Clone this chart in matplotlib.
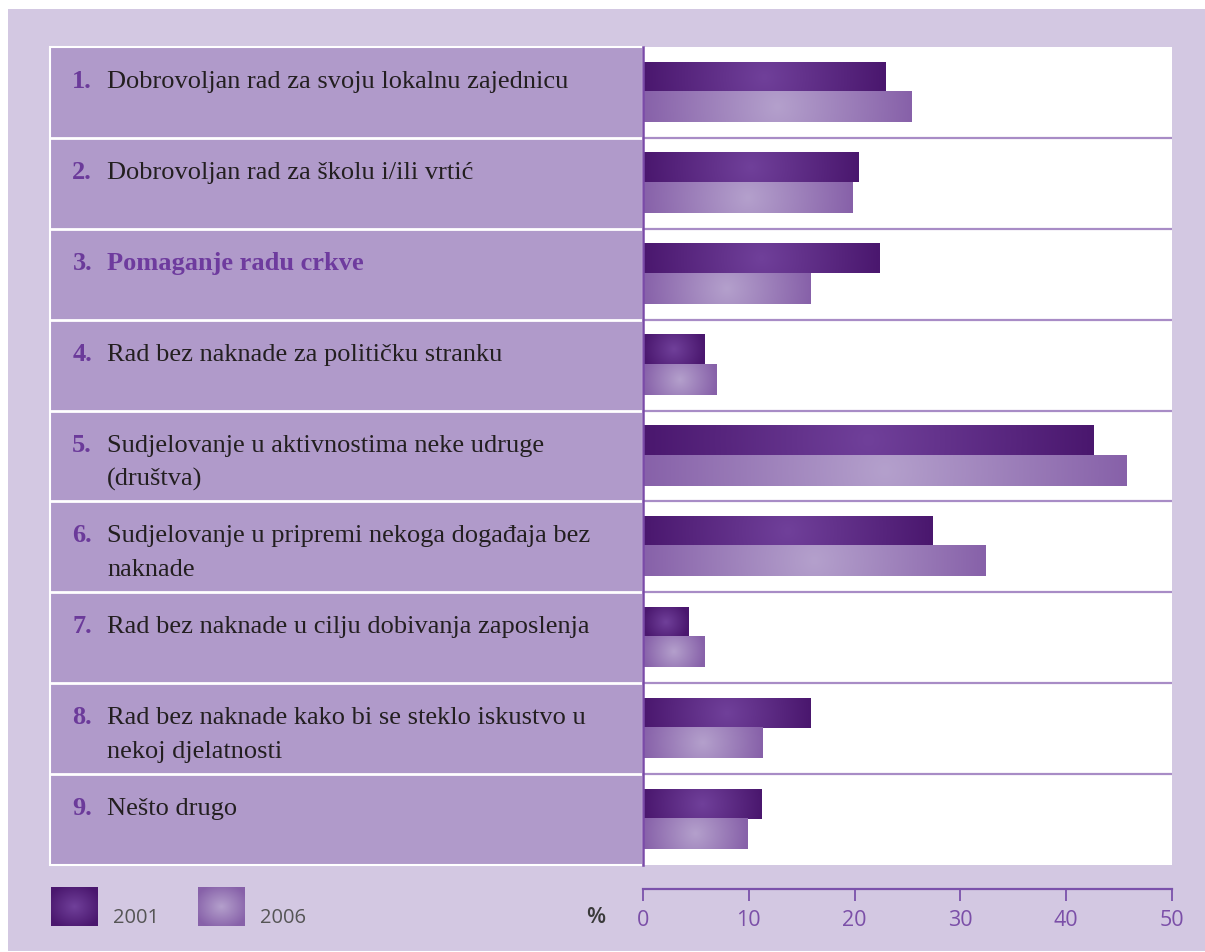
import numpy as np
import matplotlib
matplotlib.use("Agg")
import matplotlib.pyplot as plt
from matplotlib.colors import LinearSegmentedColormap
from matplotlib.transforms import Affine2D
from matplotlib.patches import Rectangle

W, H = 1205, 953

labels = [
    ["Dobrovoljan rad za svoju lokalnu zajednicu"],
    ["Dobrovoljan rad za školu i/ili vrtić"],
    ["Pomaganje radu crkve"],
    ["Rad bez naknade za političku stranku"],
    ["Sudjelovanje u aktivnostima neke udruge", "(društva)"],
    ["Sudjelovanje u pripremi nekoga događaja bez", "naknade"],
    ["Rad bez naknade u cilju dobivanja zaposlenja"],
    ["Rad bez naknade kako bi se steklo iskustvo u", "nekoj djelatnosti"],
    ["Nešto drugo"],
]
values_2001 = [22.9, 20.4, 22.4, 5.8, 42.6, 27.4, 4.3, 15.8, 11.2]
values_2006 = [25.4, 19.8, 15.8, 6.9, 45.7, 32.4, 5.8, 11.3, 9.9]
years = ["2001", "2006"]
ticks = [0, 10, 20, 30, 40, 50]

cmap_2001 = LinearSegmentedColormap.from_list("c2001", ["#70409A", "#4A176E"])
cmap_2006 = LinearSegmentedColormap.from_list("c2006", ["#B4A0CC", "#8761A9"])

fig = plt.figure(figsize=(W / 100, H / 100), dpi=100)
fig.patch.set_facecolor("white")
# pixel coordinates, y measured from the top
px = Affine2D().scale(1 / W, -1 / H).translate(0, 1) + fig.transFigure

fig.patches.append(Rectangle((8, 10), 1197, 942, transform=px, facecolor="#D3C8E2",
                             edgecolor="none", zorder=-2))

x_left, x_mid, x_right = 50, 643, 1172
y_top, y_bot = 48, 866
row_h = (y_bot - y_top) / 9

fig.patches.append(Rectangle((x_left, y_top), x_mid - x_left, y_bot - y_top, transform=px,
                             facecolor="#B09ACA", edgecolor="white", lw=1.5, zorder=-1))
for i in range(1, 9):
    yy = y_top + i * row_h
    fig.lines.append(plt.Line2D([x_left, x_mid], [yy, yy], transform=px, color="white",
                                lw=2, zorder=2))

# labels
serif = "Liberation Serif"
for i, lines in enumerate(labels):
    base = y_top + i * row_h + 40
    highlight = (i == 2)
    fig.text(92, base, f"{i + 1}.", transform=px, ha="right", va="baseline",
             family=serif, fontsize=19, fontweight="bold", color="#6B3A9A")
    for j, line in enumerate(lines):
        fig.text(107, base + j * 34, line, transform=px, ha="left", va="baseline",
                 family=serif, fontsize=19,
                 fontweight="bold" if highlight else "normal",
                 color="#6E3B9E" if highlight else "#231F20")

# bars
ax = fig.add_axes([x_mid / W, 1 - y_bot / H, (x_right - x_mid) / W, (y_bot - y_top) / H])
ax.set_zorder(5)
ax.set_facecolor("white")
scale = (x_right - x_mid) / 50


def gradient(v):
    w = max(v * scale, 1)
    h = 30
    xs = np.linspace(-1, 1, 300)
    ys = np.linspace(-1, 1, 30)
    X, Y = np.meshgrid(xs, ys)
    return np.clip(np.sqrt(X ** 2 + (Y * h / w) ** 2), 0, 1)


for i in range(9):
    ax.imshow(gradient(values_2001[i]), cmap=cmap_2001, vmin=0, vmax=1,
              extent=(0, values_2001[i], i + 0.49, i + 0.16), aspect="auto",
              interpolation="bilinear", zorder=3)
    ax.imshow(gradient(values_2006[i]), cmap=cmap_2006, vmin=0, vmax=1,
              extent=(0, values_2006[i], i + 0.825, i + 0.49), aspect="auto",
              interpolation="bilinear", zorder=3)
for i in range(1, 9):
    ax.axhline(i, color="#A88CC6", lw=1.6, zorder=2)

ax.set_xlim(0, 50)
ax.set_ylim(9, 0)
ax.set_aspect("auto")
ax.set_yticks([])
for s in ["top", "right"]:
    ax.spines[s].set_visible(False)
ax.spines["left"].set_color("#7A4BA8")
ax.spines["left"].set_linewidth(1.8)
ax.spines["left"].set_zorder(6)
ax.spines["bottom"].set_position(("outward", 17.3))
ax.spines["bottom"].set_color("#7B52AB")
ax.spines["bottom"].set_linewidth(1.6)
ax.set_xticks(ticks)
ax.tick_params(axis="x", direction="out", length=8.6, width=1.3, color="#7B52AB",
               labelcolor="#7B4FA8", labelsize=15.5, pad=5.5)
for t in ax.get_xticklabels():
    t.set_family("Open Sans")

fig.text(605, 918, "%", transform=px, ha="right", va="center", family="Open Sans",
         fontsize=16, fontweight="semibold", color="#3A3A3A")

# legend
for k, (x0, cmap) in enumerate([(51, cmap_2001), (198, cmap_2006)]):
    lax = fig.add_axes([x0 / W, 1 - 927 / H, 47 / W, 39 / H])
    lax.set_zorder(5)
    xs = np.linspace(-1, 1, 60)
    X, Y = np.meshgrid(xs, xs)
    lax.imshow(np.clip(np.sqrt(X ** 2 + Y ** 2) / 1.2, 0, 1), cmap=cmap, vmin=0, vmax=1,
               aspect="auto", interpolation="bilinear")
    lax.axis("off")
    fig.text(x0 + 62, 918, years[k], transform=px, ha="left", va="center",
             family="Open Sans", fontsize=14.5, color="#555555")

fig.savefig("out.png", dpi=100, facecolor="white")
